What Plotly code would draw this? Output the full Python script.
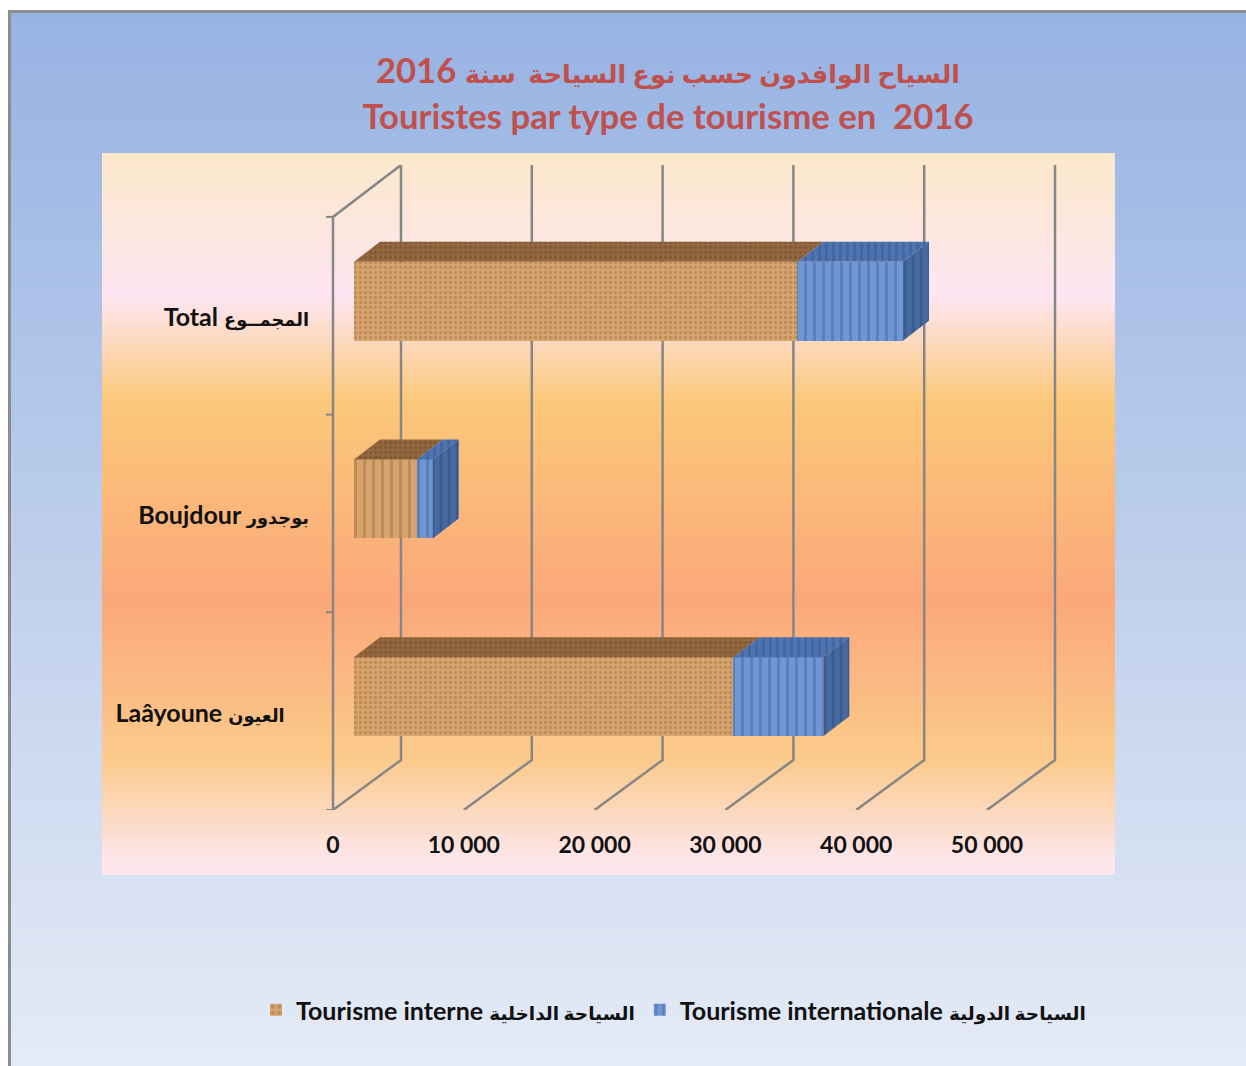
import plotly.graph_objects as go

categories_latin = ["Laâyoune", "Boujdour", "Total"]
categories_arabic = ["العيون", "بوجدور", "المجمــوع"]
categories_trailing = ["\u00a0\u00a0\u00a0\u00a0", "", ""]
tourisme_interne = [29000, 4800, 33900]
tourisme_international = [6880, 1220, 8070]
value_ticks = [0, 10000, 20000, 30000, 40000, 50000]
value_tick_labels = ["0", "10 000", "20 000", "30 000", "40 000", "50 000"]
series_latin = ["Tourisme interne", "Tourisme internationale"]
series_arabic = ["السياحة الداخلية", "السياحة الدولية"]
title_arabic = "السياح الوافدون حسب نوع السياحة  سنة"
title_year = "2016"
title_latin = "Touristes par type de tourisme en  2016"

W, H = 1246, 1066
FONT = "Lato, 'DejaVu Sans', sans-serif"
GRID = "#868686"
PX_X = 10000 / 130.8      # data units per pixel on the value axis
PX_Y = 1 / 197.7          # data units per pixel on the category axis
X_MAX = 722 * PX_X
Y_MAX = 645 * PX_Y
PAD = 12                  # spare pixels either side of the frame axes, so edge lines are not clipped
WALL_DX, WALL_DY = 68 * PX_X, 50 * PX_Y
BAR_BASE = 21 * PX_X
BAR_SHIFT = 14.5 * PX_Y
BAR_H = 79 * PX_Y
BAR_DX, BAR_DY = 26 * PX_X, 20 * PX_Y
LINE_W = 2.5


def span(text, size):
    return f'<span style="font-size:{size}px">{text}</span>'


def px_dom_x(a, b):
    return [a / W, min(b / W, 1)]


def px_dom_y(top, bottom):
    return [(H - bottom) / H, (H - top) / H]


def gradient(stops, top, bottom):
    return [[(bottom - p) / (bottom - top), c] for p, c in sorted(stops, reverse=True)]


outer = gradient([(12, "#97B3E3"), (500, "#BACCEB"), (1066, "#E5EBF6")], 12, 1066)
panel = gradient([(153, "#FBE8CA"), (295, "#FDE6F2"), (400, "#FBC87A"),
                  (600, "#FBA87A"), (760, "#FBCB8C"), (860, "#FDE6EC"), (875, "#FDE6EC")], 153, 875)

category_labels = [span(l, 25) + " " + span(a, 17.8) + t
                   for l, a, t in zip(categories_latin, categories_arabic, categories_trailing)]
series_names = [span(l, 25) + " " + span(a, 18.5) for l, a in zip(series_latin, series_arabic)]
title_text = span(title_arabic, 25.5) + " " + span(title_year, 34.7) + "<br>" + span(title_latin, 34.7)

fig = go.Figure()
for name, scale in (("", outer), ("2", panel)):
    fig.add_trace(go.Heatmap(x=[0, 1], y=[0, 1], z=[[0, 0], [1, 1]], colorscale=scale, showscale=False,
                             zsmooth="best", hoverinfo="skip", xaxis="x" + name, yaxis="y" + name))


def frame_line(xs, ys_, width=LINE_W):
    fig.add_trace(go.Scatter(x=xs, y=ys_, mode="lines", line=dict(color=GRID, width=width), showlegend=False,
                             hoverinfo="skip", xaxis="x3", yaxis="y3"))


# walls and gridlines of the 3D frame
for v in value_ticks:
    frame_line([v, v + WALL_DX, v + WALL_DX], [0, WALL_DY, Y_MAX])
frame_line([0, 0, WALL_DX], [0, len(categories_latin), Y_MAX])
for i in range(len(categories_latin) + 1):
    frame_line([-7 * PX_X, 0], [i, i], 2)

ys = [i + 0.5 + BAR_SHIFT for i in range(len(categories_latin))]
ends_a = [BAR_BASE + v for v in tourisme_interne]
ends_b = [a + v for a, v in zip(ends_a, tourisme_international)]
front_a = dict(shape=[".", "|", "."], bgcolor="#D6A46E", fgcolor="#A87240", size=[5, 9, 5], solidity=0.35)
front_b = dict(shape="|", bgcolor="#7097D3", fgcolor="#4569A9", size=9, solidity=0.35)
fig.add_trace(go.Bar(y=ys, x=tourisme_interne, base=[BAR_BASE] * 3, orientation="h", width=BAR_H,
                     name=series_names[0], marker=dict(color="#C99560", pattern=front_a, line_width=0),
                     xaxis="x4", yaxis="y4"))
fig.add_trace(go.Bar(y=ys, x=tourisme_international, base=ends_a, orientation="h", width=BAR_H,
                     name=series_names[1], marker=dict(color="#6F94CF", pattern=front_b, line_width=0),
                     xaxis="x4", yaxis="y4"))


def face(xs, ys_, bg, fg, shape, size):
    fig.add_trace(go.Scatter(x=xs, y=ys_, mode="lines", fill="toself", line=dict(width=0, color=bg),
                             fillcolor=bg, showlegend=False, hoverinfo="skip",
                             fillpattern=dict(shape=shape, bgcolor=bg, fgcolor=fg, size=size, solidity=0.35),
                             xaxis="x4", yaxis="y4"))


for y, a, b in zip(ys, ends_a, ends_b):
    t = y + BAR_H / 2
    low = y - BAR_H / 2
    face([BAR_BASE, BAR_BASE + BAR_DX, a + BAR_DX, a], [t, t + BAR_DY, t + BAR_DY, t],
         "#94683F", "#6F4A28", ".", 5)
    face([a, a + BAR_DX, b + BAR_DX, b], [t, t + BAR_DY, t + BAR_DY, t],
         "#4F74B0", "#35568F", "|", 7)
    face([b, b + BAR_DX, b + BAR_DX, b], [low, low + BAR_DY, t + BAR_DY, t],
         "#466A9F", "#2F4C7E", "|", 8)

hidden = dict(visible=False, fixedrange=True, automargin=False)
full = px_dom_x(11, W)
fig.update_layout(
    width=W, height=H, margin=dict(l=0, r=0, t=0, b=0, autoexpand=False),
    paper_bgcolor="white", plot_bgcolor="rgba(0,0,0,0)",
    font=dict(family=FONT, color="#111111", size=23, weight=700),
    barmode="overlay", bargap=0,
    title=dict(text=title_text, x=668 / W, xanchor="center", y=1 - 83 / H, yanchor="top", automargin=False,
               font=dict(family=FONT, size=35, color="#C0504D", weight=700)),
    xaxis=dict(domain=full, range=[0, 1], side="top", showline=True, linecolor="#8C8C8C", linewidth=3,
               showgrid=False, zeroline=False, showticklabels=False, ticks="", fixedrange=True, anchor="y",
               automargin=False),
    yaxis=dict(domain=px_dom_y(13, H), range=[0, 1], showline=True, linecolor="#8C8C8C", linewidth=3,
               showgrid=False, zeroline=False, showticklabels=False, ticks="", fixedrange=True, anchor="x",
               automargin=False),
    xaxis2=dict(domain=px_dom_x(102, 1115), range=[0, 1], anchor="y2", **hidden),
    yaxis2=dict(domain=px_dom_y(153, 875), range=[0, 1], anchor="x2", **hidden),
    xaxis3=dict(domain=px_dom_x(333 - PAD, 1055 + PAD), range=[-PAD * PX_X, X_MAX + PAD * PX_X], anchor="y3",
                showgrid=False, zeroline=False, tickvals=value_ticks, ticktext=value_tick_labels, ticks="",
                ticklabelstandoff=19, fixedrange=True, tickfont=dict(size=23), automargin=False),
    yaxis3=dict(domain=px_dom_y(165, 810), range=[0, Y_MAX], anchor="x3", showgrid=False, zeroline=False,
                showticklabels=False, ticks="", fixedrange=True, automargin=False),
    xaxis4=dict(domain=px_dom_x(333, 1055), range=[0, X_MAX], anchor="y4", showgrid=False, zeroline=False,
                showticklabels=False, ticks="", fixedrange=True, automargin=False),
    yaxis4=dict(domain=px_dom_y(165, 810), range=[0, Y_MAX], anchor="x4", showgrid=False, zeroline=False,
                tickvals=[i + 0.49 for i in range(len(categories_latin))], ticktext=category_labels, ticks="",
                ticklabelstandoff=23, fixedrange=True, tickfont=dict(size=25), automargin=False),
    legend=dict(orientation="h", x=256 / W, xanchor="left", y=1 - 1010 / H, yanchor="middle",
                bgcolor="rgba(0,0,0,0)", font=dict(size=25), traceorder="normal"),
)
fig.write_html("out.html", config=dict(displayModeBar=False),
               post_script="document.body.style.margin='0';document.documentElement.style.overflow='hidden';")
